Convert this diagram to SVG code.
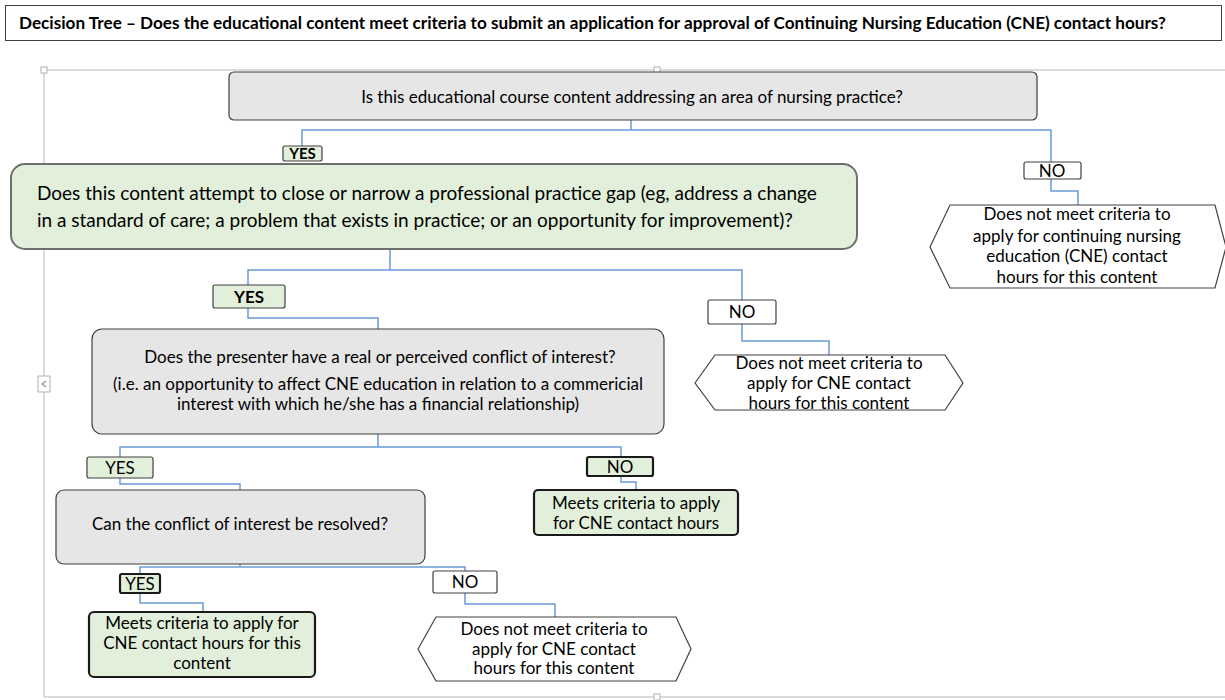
<svg xmlns="http://www.w3.org/2000/svg" width="1225" height="700" viewBox="0 0 1225 700">
<style>
text{font-family:Lato,"Liberation Sans",sans-serif;fill:#000}
.t{font-size:17px;text-anchor:middle}
.tl{font-size:19px}
.q{fill:#e7e6e6;stroke:#404040;stroke-width:1.2}
.g{fill:#e2efda;stroke:#404040;stroke-width:1.2}
.gb{fill:#e2efda;stroke:#1a1a1a;stroke-width:2.2}
.w{fill:#fff;stroke:#404040;stroke-width:1.2}
.c{fill:none;stroke:#6a9bd6;stroke-width:1.5}
.fr{fill:none;stroke:#d0d0d0;stroke-width:1.5}
.h{fill:#fff;stroke:#b0b0b0;stroke-width:1}
</style>
<rect width="1225" height="700" fill="#fff"/>
<g id="title">
<rect x="5.5" y="5.5" width="1216" height="35" fill="#fff" stroke="#404040" stroke-width="1"/>
<text x="19" y="29" style="font-size:17px;font-weight:bold" textLength="1147" lengthAdjust="spacingAndGlyphs">Decision Tree – Does the educational content meet criteria to submit an application for approval of Continuing Nursing Education (CNE) contact hours?</text>
</g>
<g id="frame">
<path class="fr" d="M44 697V70H1225M44 697H1225"/>
<rect class="h" x="41" y="67" width="6" height="6"/>
<rect class="h" x="654" y="67" width="6" height="6"/>
<rect class="h" x="654" y="694" width="6" height="6"/>
<rect class="h" x="38" y="376" width="12" height="16"/>
<polyline points="46,381 42,384 46,387" fill="none" stroke="#909090" stroke-width="1.2"/>
</g>
<g id="connectors">
<path class="c" d="M631 120V130H302V146M631 130H1051V162"/>
<path class="c" d="M1051 179V191H1078V205"/>
<path class="c" d="M390 249V270H248V285M390 270H742V300"/>
<path class="c" d="M248 308V318H378V329"/>
<path class="c" d="M742 324V341H829V355"/>
<path class="c" d="M378 434V447H120V457M378 447H621V457"/>
<path class="c" d="M120 478V484H240V490"/>
<path class="c" d="M621 476V482H636V490"/>
<path class="c" d="M240 564V567H140V574M240 567H465V571"/>
<path class="c" d="M140 593V603H203V612"/>
<path class="c" d="M465 593V604H555V617"/>
</g>
<g id="n1">
<rect class="q" x="229" y="72" width="808" height="48" rx="5"/>
<text class="t" x="632" y="103">Is this educational course content addressing an area of nursing practice?</text>
</g>
<g id="yes1">
<rect class="g" x="283" y="146" width="39" height="15" rx="2"/>
<text class="t" x="302.5" y="159" style="font-weight:bold;font-size:15px">YES</text>
</g>
<g id="n2">
<rect x="11" y="164" width="846" height="85" rx="14" fill="#e2efda" stroke="#6e6e6e" stroke-width="2"/>
<text class="tl" x="37" y="199.5">Does this content attempt to close or narrow a professional practice gap (eg, address a change</text>
<text class="tl" x="37" y="226.5">in a standard of care; a problem that exists in practice; or an opportunity for improvement)?</text>
</g>
<g id="no1">
<rect class="w" x="1024" y="162" width="57" height="17" rx="2"/>
<text class="t" x="1052" y="176.5">NO</text>
</g>
<g id="hex1">
<polygon class="w" points="930,247 950,205 1215,205 1226,247 1215,288 950,288"/>
<text class="t" x="1077" y="220">Does not meet criteria to</text>
<text class="t" x="1077" y="242">apply for continuing nursing</text>
<text class="t" x="1077" y="262">education (CNE) contact</text>
<text class="t" x="1077" y="283">hours for this content</text>
</g>
<g id="yes2">
<rect class="g" x="213" y="285" width="72" height="23" rx="2"/>
<text class="t" x="249" y="302.5" style="font-weight:bold">YES</text>
</g>
<g id="no2">
<rect class="w" x="708" y="300" width="68" height="24" rx="2"/>
<text class="t" x="742" y="318">NO</text>
</g>
<g id="n3">
<rect class="q" x="92" y="329" width="572" height="105" rx="10"/>
<text class="t" x="380" y="363">Does the presenter have a real or perceived conflict of interest?</text>
<text class="t" x="378" y="390">(i.e. an opportunity to affect CNE education in relation to a commericial</text>
<text class="t" x="378" y="410">interest with which he/she has a financial relationship)</text>
</g>
<g id="hex2">
<polygon class="w" points="695,383 715,355 945,355 963,383 945,410 715,410"/>
<text class="t" x="829" y="369">Does not meet criteria to</text>
<text class="t" x="829" y="389">apply for CNE contact</text>
<text class="t" x="829" y="409">hours for this content</text>
</g>
<g id="yes3">
<rect class="g" x="87" y="457" width="66" height="21" rx="2"/>
<text class="t" x="120" y="473.5">YES</text>
</g>
<g id="no3">
<rect class="gb" x="587" y="457" width="66" height="19" rx="2"/>
<text class="t" x="620" y="472.5">NO</text>
</g>
<g id="n4">
<rect class="q" x="56" y="490" width="369" height="74" rx="8"/>
<text class="t" x="240" y="530">Can the conflict of interest be resolved?</text>
</g>
<g id="meets1">
<rect class="gb" x="534" y="490" width="204" height="45" rx="4"/>
<text class="t" x="636" y="509">Meets criteria to apply</text>
<text class="t" x="636" y="529">for CNE contact hours</text>
</g>
<g id="yes4">
<rect class="gb" x="120" y="574" width="40" height="19" rx="2"/>
<text class="t" x="140" y="589.5">YES</text>
</g>
<g id="no4">
<rect class="w" x="433" y="571" width="64" height="22" rx="2"/>
<text class="t" x="465" y="588">NO</text>
</g>
<g id="meets2">
<rect class="gb" x="89" y="612" width="226" height="65" rx="5"/>
<text class="t" x="202" y="629">Meets criteria to apply for</text>
<text class="t" x="202" y="649">CNE contact hours for this</text>
<text class="t" x="202" y="669">content</text>
</g>
<g id="hex3">
<polygon class="w" points="418,649 436,617 676,617 691,649 676,681 436,681"/>
<text class="t" x="554" y="635">Does not meet criteria to</text>
<text class="t" x="554" y="655">apply for CNE contact</text>
<text class="t" x="554" y="674">hours for this content</text>
</g>
</svg>
